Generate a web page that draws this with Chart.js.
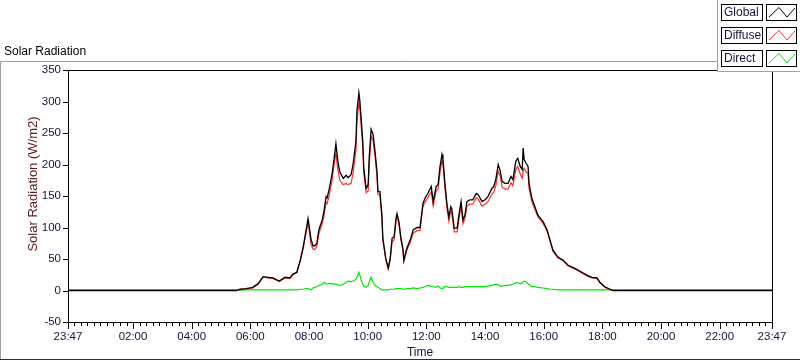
<!DOCTYPE html>
<html>
<head>
<meta charset="utf-8">
<script src="https://cdn.jsdelivr.net/npm/chart.js@4.4.1/dist/chart.umd.min.js"></script>
<style>
html,body{margin:0;padding:0;background:#fff}
</style>
</head>
<body>
<canvas id="c" width="800" height="361"></canvas>
<script>
// sample times (first point is 23:47 of the day before)
const times = [
  '23:47','05:31','05:39','05:51','05:59','06:05','06:16','06:26','06:36','06:46',
  '06:59','07:11','07:21','07:27','07:35','07:42','07:48','07:54','07:58','08:04',
  '08:08','08:12','08:16','08:20','08:27','08:31','08:35','08:37','08:41','08:47',
  '08:51','08:55','08:59','09:03','09:10','09:16','09:20','09:26','09:30','09:36',
  '09:38','09:42','09:44','09:46','09:50','09:52','09:57','10:01','10:03','10:07',
  '10:11','10:15','10:19','10:21','10:25','10:29','10:31','10:37','10:42','10:46',
  '10:50','10:54','10:58','11:00','11:04','11:08','11:12','11:14','11:20','11:27',
  '11:33','11:41','11:47','11:53','11:57','12:03','12:10','12:14','12:20','12:24',
  '12:28','12:32','12:34','12:38','12:42','12:46','12:50','12:52','12:57','13:03',
  '13:07','13:11','13:15','13:19','13:23','13:29','13:35','13:42','13:46','13:54',
  '14:00','14:06','14:14','14:18','14:22','14:27','14:31','14:35','14:41','14:47',
  '14:53','14:57','15:03','15:07','15:12','15:16','15:18','15:20','15:24','15:28',
  '15:30','15:36','15:42','15:48','15:59','16:07','16:13','16:19','16:29','16:40',
  '16:50','17:04','17:18','17:29','17:39','17:49','17:55','18:05','18:16','18:22',
  '23:47'
]

const globalVals = [
  0,0,2,3,4,5,11,22,21,20,
  15,21,20,26,29,48,69,96,114,82,
  71,71,75,96,112,128,149,147,160,184,
  208,233,205,188,178,183,179,184,200,237,
  285,314,301,280,237,194,162,168,210,256,
  248,221,189,157,157,120,83,51,36,51,
  83,85,115,122,109,83,67,48,67,80,
  96,100,100,138,146,154,165,141,165,168,
  197,216,208,170,138,117,133,130,99,99,
  122,141,112,120,141,144,144,154,152,141,
  144,149,162,165,176,200,190,173,170,170,
  181,176,205,210,197,192,226,208,202,197,
  170,146,133,120,109,96,80,64,53,48,
  40,35,29,24,21,20,13,6,2,0,
  0
]

const diffuseVals = [
  0,0,1,2,3,4,10,21,20,19,
  14,20,19,25,28,46,66,92,108,74,
  66,65,70,90,106,120,140,138,150,174,
  198,218,192,175,168,170,168,170,186,222,
  268,298,288,268,226,186,155,158,198,245,
  238,212,182,152,152,117,80,49,34,48,
  78,80,110,118,105,80,64,46,64,76,
  91,95,95,133,140,147,157,134,158,161,
  188,206,200,163,131,110,126,123,93,93,
  115,134,106,114,134,137,137,147,145,134,
  137,141,153,156,166,189,182,164,161,161,
  171,166,192,197,185,178,190,194,188,186,
  162,140,129,117,106,94,78,62,52,47,
  39,34,28,23,20,19,12,5,1,0,
  0
]

const directVals = [
  1,1,1,1,1,1,1,1,1,1,
  1,1,1,1,1,2,2,3,3,1,
  4,5,6,8,10,13,11,10,11,11,
  10,10,9,8,10,13,15,14,15,18,
  21,29,24,18,10,7,5,8,13,21,
  13,8,6,5,3,1,1,1,1,2,
  2,2,3,3,3,3,2,2,3,3,
  4,3,4,5,6,8,7,6,5,7,
  4,3,4,6,6,5,5,5,5,5,
  6,5,5,6,6,6,6,6,6,6,
  6,7,8,9,10,9,7,7,8,8,
  9,10,12,12,11,12,14,15,14,11,
  9,6,6,5,4,3,2,2,1,1,
  1,1,1,1,1,1,1,1,1,1,
  1
]

const seriesNames = ['Global', 'Diffuse', 'Direct']
const seriesColors = ['#000000', '#ff3030', '#00e600']
const yTicks = [-50, 0, 50, 100, 150, 200, 250, 300, 350]
const xLabelTimes = ['23:47','02:00','04:00','06:00','08:00','10:00','12:00',
  '14:00','16:00','18:00','20:00','22:00','23:47']

const FONT = '"Liberation Sans", Arial, sans-serif'
const NAVY = '#14143c'

function toMin(s, i){
    const [h, m] = s.split(':').map(Number)
    let v = h * 60 + m
    if(i === 0 && v > 720) v -= 1440   // previous day
    return v
}
function fmt(v){
    const t = ((Math.round(v) % 1440) + 1440) % 1440
    return String(Math.floor(t / 60)).padStart(2, '0') + ':' + String(t % 60).padStart(2, '0')
}

const xMajors = xLabelTimes.map(toMin)
const XMIN = xMajors[0]
const XMAX = xMajors[xMajors.length - 1]
const toPoints = vals => times.map((t, i) => ({x: toMin(t, i), y: vals[i]}))

const framePlugin = {
    id: 'frame',
    beforeDraw(chart){
        const ctx = chart.ctx
        ctx.save()
        ctx.fillStyle = '#fff'
        ctx.fillRect(0, 0, chart.width, chart.height)
        ctx.lineWidth = 1
        ctx.strokeStyle = '#a0a0a0'
        ctx.beginPath()
        ctx.moveTo(0.5, 359)
        ctx.lineTo(0.5, 61.5)
        ctx.lineTo(800, 61.5)
        ctx.stroke()
        ctx.strokeStyle = '#303030'
        ctx.beginPath()
        ctx.moveTo(0, 359.5)
        ctx.lineTo(800, 359.5)
        ctx.stroke()
        ctx.font = '12px ' + FONT
        ctx.fillStyle = '#000'
        ctx.textBaseline = 'alphabetic'
        ctx.fillText('Solar Radiation', 4, 55)

        // y axis title
        ctx.translate(33, 184)
        ctx.rotate(-Math.PI / 2)
        ctx.font = '13px ' + FONT
        ctx.fillStyle = '#5a1e1e'
        ctx.textAlign = 'center'
        ctx.textBaseline = 'middle'
        ctx.fillText('Solar Radiation (W/m2)', 0, 0)
        ctx.restore()
    },
    afterDraw(chart){
        const ctx = chart.ctx
        const a = chart.chartArea
        const xs = chart.scales.x
        const ys = chart.scales.y
        ctx.save()
        ctx.lineWidth = 1
        ctx.strokeStyle = '#000'
        ctx.strokeRect(a.left + 0.5, a.top + 0.5, a.right - a.left, a.bottom - a.top)

        // x tick marks: minor every 800 s, major at labels
        ctx.beginPath()
        for(let k = 0; k <= 106; k++){
            const px = Math.round(xs.getPixelForValue(k * 40 / 3)) + 0.5
            ctx.moveTo(px, a.bottom)
            ctx.lineTo(px, a.bottom + 4)
        }
        xMajors.forEach(v => {
            const px = Math.round(xs.getPixelForValue(v)) + 0.5
            ctx.moveTo(px, a.bottom)
            ctx.lineTo(px, a.bottom + 7)
        })
        yTicks.forEach(v => {
            const py = Math.round(ys.getPixelForValue(v)) + 0.5
            ctx.moveTo(a.left - 5, py)
            ctx.lineTo(a.left, py)
        })
        ctx.stroke()

        // legend panel
        ctx.fillStyle = '#fff'
        ctx.fillRect(717, 0, 83, 72)
        ctx.strokeStyle = '#a0a0a0'
        ctx.beginPath()
        ctx.moveTo(717.5, 0)
        ctx.lineTo(717.5, 71.5)
        ctx.lineTo(800, 71.5)
        ctx.stroke()
        ctx.font = '12px ' + FONT
        ctx.textBaseline = 'middle'
        chart.data.datasets.forEach((ds, i) => {
            const y0 = 4 + i * 23
            ctx.strokeStyle = '#000'
            ctx.strokeRect(721.5, y0 + 0.5, 41, 16)
            ctx.strokeRect(766.5, y0 + 0.5, 30, 16)
            ctx.fillStyle = NAVY
            ctx.fillText(ds.label, 724, y0 + 9)
            ctx.strokeStyle = ds.borderColor
            ctx.beginPath()
            ctx.moveTo(769, y0 + 13)
            ctx.lineTo(779, y0 + 3.5)
            ctx.lineTo(787, y0 + 13)
            ctx.lineTo(795, y0 + 4)
            ctx.stroke()
        })
        ctx.restore()
    }
}

const datasets = [globalVals, diffuseVals, directVals].map((vals, i) => ({
    label: seriesNames[i],
    data: toPoints(vals),
    borderColor: seriesColors[i],
    backgroundColor: seriesColors[i],
    borderWidth: i === 0 ? 1.3 : 1.2,
    pointRadius: 0,
    tension: 0,
    fill: false
}))

new Chart(document.getElementById('c'), {
    type: 'line',
    data: {datasets},
    plugins: [framePlugin],
    options: {
        responsive: false,
        animation: false,
        layout: {padding: {left: 0, right: 28, top: 70, bottom: 0}},
        plugins: {legend: {display: false}, tooltip: {enabled: false}},
        scales: {
            x: {
                type: 'linear',
                min: XMIN,
                max: XMAX,
                afterFit: s => { s.height = 39 },
                afterBuildTicks: s => { s.ticks = xMajors.map(v => ({value: v})) },
                grid: {display: false, drawTicks: false},
                border: {display: false},
                ticks: {
                    autoSkip: false,
                    maxRotation: 0,
                    padding: 8,
                    color: NAVY,
                    font: {family: FONT, size: 11.5},
                    callback: v => fmt(v)
                },
                title: {
                    display: true,
                    text: 'Time',
                    color: NAVY,
                    font: {family: FONT, size: 12},
                    padding: {top: 0, bottom: 1}
                }
            },
            y: {
                min: -50,
                max: 350,
                afterFit: s => { s.width = 68 },
                afterBuildTicks: s => { s.ticks = yTicks.map(v => ({value: v})) },
                grid: {display: false, drawTicks: false},
                border: {display: false},
                ticks: {
                    padding: 7,
                    color: NAVY,
                    font: {family: FONT, size: 11.5}
                }
            }
        }
    }
})
</script>
</body>
</html>
